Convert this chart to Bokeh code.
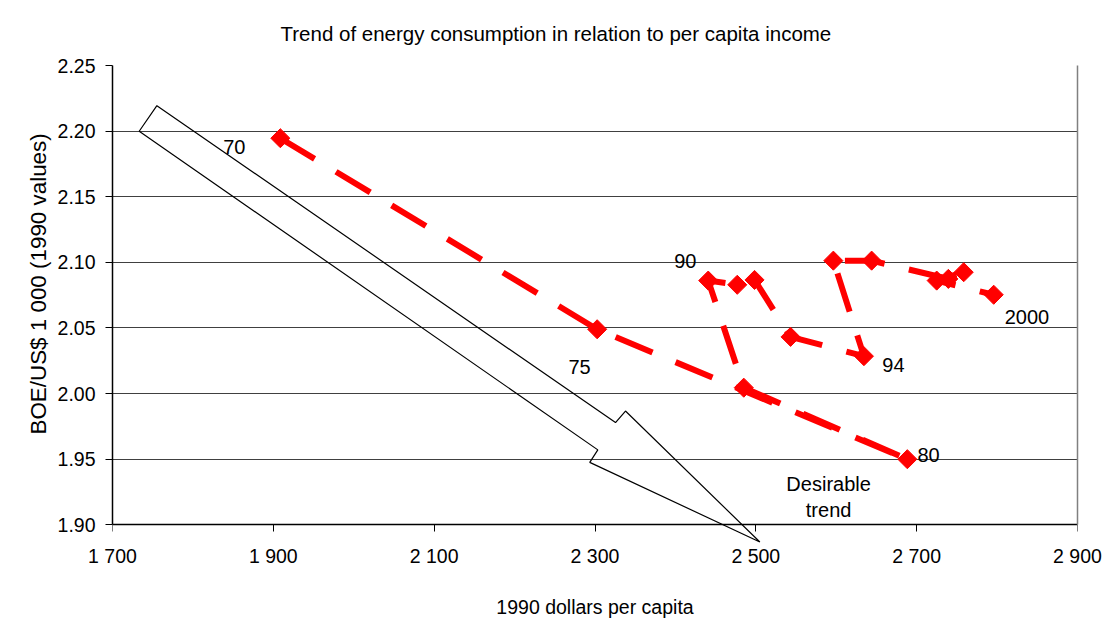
import math
from bokeh.plotting import figure
from bokeh.models import (Range1d, FixedTicker, NumeralTickFormatter, PolyAnnotation,
                          LinearAxis, Title)
from bokeh.core.properties import value
from bokeh.embed import file_html
from bokeh.resources import INLINE

FONT = "Liberation Sans"

years = ["70", "75", "80", "85", "90", "91", "92", "93", "94", "95", "96", "97", "98", "99", "2000"]
income = [1908.7, 2302.7, 2688.4, 2485.0, 2440.8, 2476.9, 2498.4, 2543.2, 2634.4,
          2596.4, 2644.0, 2739.4, 2758.5, 2724.9, 2795.8]
intensity = [2.1946, 2.0490, 1.9500, 2.0045, 2.0861, 2.0829, 2.0866, 2.0432, 2.0285,
             2.1013, 2.1013, 2.0874, 2.0925, 2.0861, 2.0753]

label_text = ["70", "75", "80", "90", "94", "2000"]
label_x = [1837.7, 2267.0, 2700.9, 2398.5, 2657.3, 2809.5]
label_y = [2.1876, 2.0206, 1.9531, 2.1013, 2.0214, 2.0583]

note_text = ["Desirable", "trend"]
note_x = [2590.5, 2590.5]
note_y = [1.9311, 1.9114]

arrow_x = [1733.2, 1755.2, 2325.5, 2337.9, 2505.0, 2293.5, 2303.5]
arrow_y = [2.1999, 2.2194, 1.9779, 1.9867, 1.8869, 1.9476, 1.9571]

x_ticks = [1700, 1900, 2100, 2300, 2500, 2700, 2900]
x_tick_labels = ["1 700", "1 900", "2 100", "2 300", "2 500", "2 700", "2 900"]
y_ticks = [1.90, 1.95, 2.00, 2.05, 2.10, 2.15, 2.20, 2.25]
y_min, y_max = 1.90, 2.25

# the frame reaches a little below 1.90 so the arrow tip is not cut off;
# the x axis line and ticks are pinned at 1.90
p = figure(width=1103, height=620,
           x_range=Range1d(1700, 2900), y_range=Range1d(1.885, y_max),
           output_backend="svg", toolbar_location=None,
           min_border_left=112, min_border_right=26,
           min_border_top=65, min_border_bottom=74)

p.title.text = "Trend of energy consumption in relation to per capita income"
p.title.align = "left"
p.title.offset = 168
p.title.vertical_align = "top"
p.title.text_font = FONT
p.title.text_font_size = "20.5px"
p.title.text_font_style = "normal"
p.title.text_color = "black"
p.title.standoff = 38

p.outline_line_color = None
p.xgrid.visible = False
p.ygrid.ticker = FixedTicker(ticks=y_ticks)
p.ygrid.grid_line_color = "#404040"
p.ygrid.grid_line_width = 1

# x axis: labels (main axis, no line / ticks)
xax = p.below[0]
xax.ticker = FixedTicker(ticks=x_ticks)
xax.major_label_overrides = dict(zip(x_ticks, x_tick_labels))
xax.axis_line_color = None
xax.major_tick_line_color = None
xax.minor_tick_line_color = None
xax.major_tick_out = 0
xax.major_tick_in = 0
xax.major_label_standoff = 0
xax.major_label_text_font = FONT
xax.major_label_text_font_size = "19.5px"
xax.major_label_text_color = "black"
xax.axis_label = "1990 dollars per capita"
xax.axis_label_text_font = FONT
xax.axis_label_text_font_size = "19.5px"
xax.axis_label_text_font_style = "normal"
xax.axis_label_text_color = "black"
xax.axis_label_standoff = 26

# x axis line + ticks at 1.90
x_rule = LinearAxis(ticker=FixedTicker(ticks=x_ticks), fixed_location=y_min,
                    major_label_overrides={t: "" for t in x_ticks},
                    axis_line_color="black", axis_line_width=1.5,
                    major_tick_line_color="black", major_tick_out=7, major_tick_in=0,
                    minor_tick_line_color=None)
p.add_layout(x_rule, "below")

# y axis
yax = p.left[0]
yax.ticker = FixedTicker(ticks=y_ticks)
yax.formatter = NumeralTickFormatter(format="0.00")
yax.bounds = (y_min, y_max)
yax.axis_line_color = "black"
yax.axis_line_width = 1.5
yax.major_tick_line_color = "black"
yax.major_tick_out = 7
yax.major_tick_in = 0
yax.minor_tick_line_color = None
yax.major_label_text_font = FONT
yax.major_label_text_font_size = "19.5px"
yax.major_label_text_color = "black"
yax.major_label_standoff = 10

ytitle = Title(text="BOE/US$ 1 000 (1990 values)", align="left", offset=110,
               text_font=FONT, text_font_size="22.4px", text_font_style="normal",
               text_color="black", standoff=8)
p.add_layout(ytitle, "left")

# right-hand frame border
right = LinearAxis(ticker=FixedTicker(ticks=[]), bounds=(y_min, y_max),
                   axis_line_color="#808080", axis_line_width=1.5,
                   major_tick_line_color=None, minor_tick_line_color=None)
p.add_layout(right, "right")

# desirable-trend arrow
arrow = PolyAnnotation(xs=arrow_x, ys=arrow_y, fill_alpha=0,
                       line_color="black", line_alpha=1.0, line_width=1.2)
p.add_layout(arrow)

# series
p.line(income, intensity, line_color="#FF0000", line_width=6, line_dash="40 25")
p.scatter(income, intensity, marker="square", size=13.5, angle=math.pi / 4,
          fill_color="#FF0000", line_color="#FF0000")

p.text(x=label_x, y=label_y, text=label_text, text_font=value(FONT),
       text_font_size="20px", text_align="left", text_baseline="middle",
       text_color="black")
p.text(x=note_x, y=note_y, text=note_text, text_font=value(FONT),
       text_font_size="20px", text_align="center", text_baseline="middle",
       text_color="black")

open("out.html", "w").write(file_html(p, INLINE))
